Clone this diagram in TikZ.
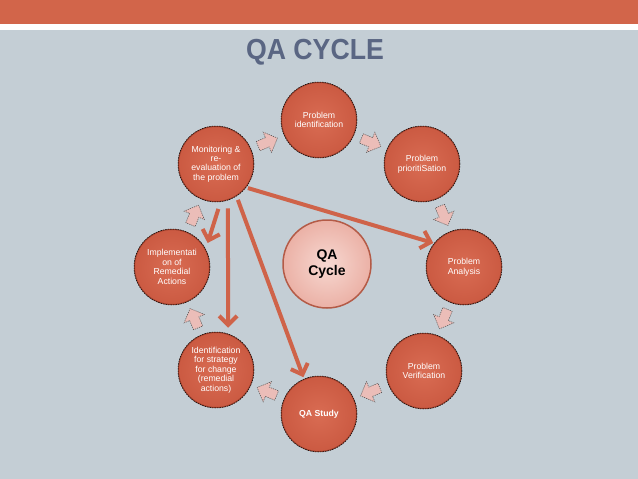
\documentclass[tikz,border=0pt]{standalone}
\usepackage{fontspec}
\setmainfont{Liberation Sans}
\usetikzlibrary{arrows.meta,calc}
\definecolor{bgc}{HTML}{C4CED5}
\definecolor{barc}{HTML}{D2654A}
\definecolor{titlec}{HTML}{5A6683}
\definecolor{cin}{HTML}{D96C53}
\definecolor{cout}{HTML}{CB5A42}
\definecolor{cedge}{HTML}{9E3F2B}
\definecolor{arrc}{HTML}{CF6349}
\definecolor{pinkin}{HTML}{F7D8D1}
\definecolor{pinkout}{HTML}{EBB1A6}
\definecolor{pinkedge}{HTML}{B45B47}
\definecolor{blkfill}{HTML}{EBBDB8}
\begin{document}
\begin{tikzpicture}[x=1pt,y=-1pt,
  cyc/.style={circle,minimum size=75pt,inner sep=0pt,inner color=cin,outer color=cout,draw=cedge,line width=1pt,
    text=white,align=center,font=\fontsize{8.7}{9.5}\selectfont},
  hub/.style={circle,minimum size=88pt,inner sep=0pt,inner color=pinkin,outer color=pinkout,
    draw=pinkedge,line width=1.5pt,align=center,font=\fontsize{14}{16}\selectfont\bfseries},
  bigarr/.style={draw=arrc,line width=4pt,-{Straight Barb[length=9pt,width=18pt]}},
  blk/.pic={\draw[fill=blkfill,draw=black!70,line width=0.5pt,dash pattern=on 1.2pt off 1pt]
    (-10,-5) -- (0,-5) -- (0,-11) -- (11,0) -- (0,11) -- (0,5) -- (-10,5) -- cycle;}
]
\useasboundingbox (0,0) rectangle (638,479);
\fill[bgc] (0,0) rectangle (638,479);
\fill[white] (0,24) rectangle (638,30);
\fill[barc] (0,0) rectangle (638,24);
\node[font=\fontsize{29}{30}\selectfont\bfseries,text=titlec,xscale=0.92] (title) at (315,52) {QA CYCLE};

\coordinate (c) at (319,267);
\node[cyc] (pid) at (319,120) {Problem\\identification};
\node[cyc] (pri) at (422,164) {Problem\\prioritiSation};
\node[cyc] (ana) at (464,267) {Problem\\Analysis};
\node[cyc] (ver) at (424,371) {Problem\\Verification};
\node[cyc,font=\fontsize{8.7}{9.5}\selectfont\bfseries] (qas) at (319,414) {QA Study};
\node[cyc] (ide) at (216,370) {Identification\\for strategy\\for change\\(remedial\\actions)};
\node[cyc] (imp) at (172,267) {Implementati\\on of\\Remedial\\Actions};
\node[cyc] (mon) at (216,164) {Monitoring \&\\re-\\evaluation of\\the problem};
\foreach \n in {pid,pri,ana,ver,qas,ide,imp,mon}
  \draw[black,line width=0.5pt,dash pattern=on 1.5pt off 1pt] (\n) circle (38pt);

\node[hub] (qac) at (327,264) {QA\\Cycle};

\foreach \a in {157.5,112.5,67.5,22.5,-22.5,-67.5,-112.5,-157.5}
  \pic[rotate=\a-90] at ($(c)+(\a:135pt)$) {blk};

\draw[bigarr] ($(mon)+(-37:40pt)$) -- ($(ana)+(142:39pt)$);
\draw[bigarr] ($(mon)+(-87:45pt)$) -- ($(imp)+(34:43pt)$);
\draw[bigarr] ($(mon)+(-75:46pt)$) -- ($(ide)+(74:44pt)$);
\draw[bigarr] ($(mon)+(-58.6:42pt)$) -- ($(qas)+(113:40pt)$);
\end{tikzpicture}
\end{document}
